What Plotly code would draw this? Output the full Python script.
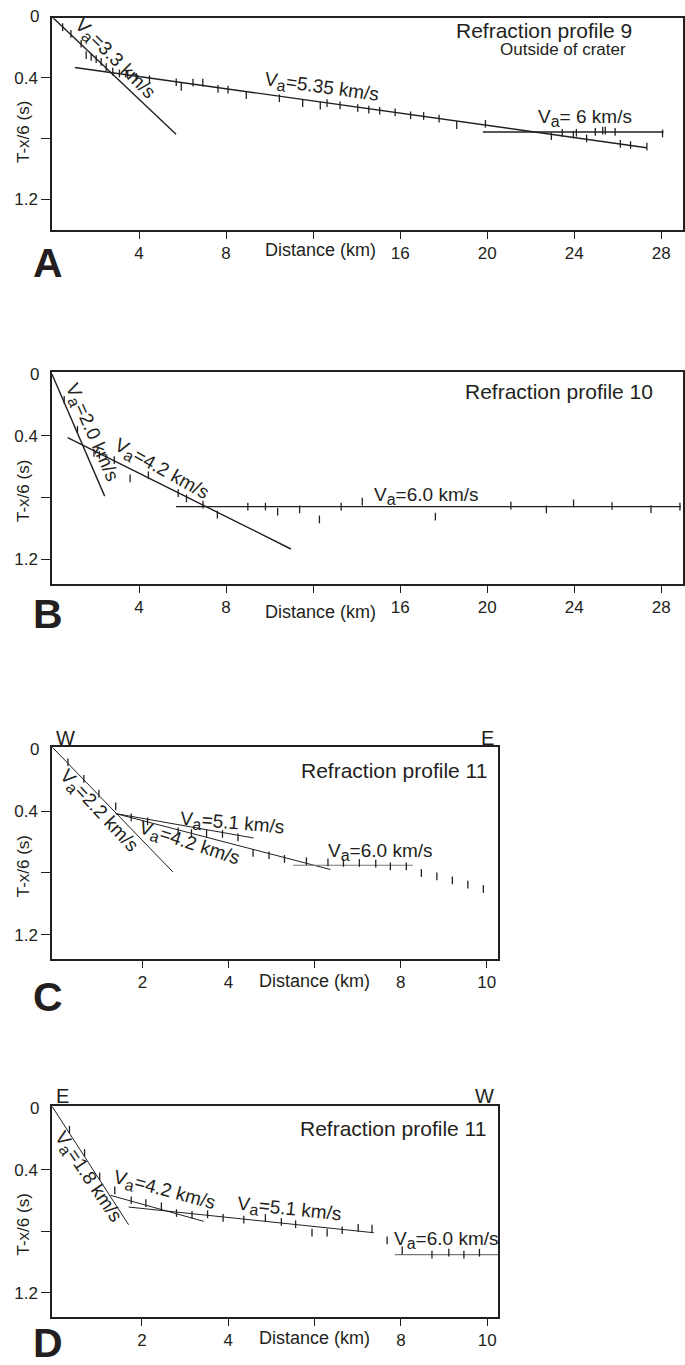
import plotly.graph_objects as go

W, H = 685, 1365
FONT = "Liberation Sans, Arial, sans-serif"
INK = "#231f20"

# ---------------- data ----------------
# Panel A : Refraction profile 9
a_pts_x = [0.49, 0.87, 1.34, 1.57, 1.80, 2.03, 2.26, 2.49, 2.79, 3.10, 3.48, 3.87, 4.48,
           5.71, 5.94, 6.48, 6.93, 7.63, 8.09, 8.93, 10.45, 11.52, 12.33, 12.64, 13.24,
           14.05, 14.56, 15.06, 15.77, 16.48, 17.08, 17.79, 18.60, 19.92, 22.95, 23.45,
           23.96, 24.10, 24.57, 24.97, 25.31, 25.43, 25.88, 26.12, 26.59, 27.34, 28.06]
a_pts_y = [0.068, 0.112, 0.177, 0.252, 0.263, 0.278, 0.296, 0.33, 0.36, 0.372, 0.38, 0.395, 0.41,
           0.43, 0.46, 0.433, 0.433, 0.474, 0.478, 0.515, 0.535, 0.567, 0.584, 0.567, 0.582,
           0.599, 0.610, 0.617, 0.628, 0.647, 0.651, 0.669, 0.712, 0.703, 0.784, 0.762,
           0.773, 0.762, 0.799, 0.756, 0.747, 0.747, 0.756, 0.834, 0.842, 0.853, 0.766]
a_v33_x, a_v33_y = [0.0, 5.70], [0.0, 0.772]
a_v535_x, a_v535_y = [1.05, 27.33], [0.333, 0.86]
a_v6_x, a_v6_y = [19.8, 28.1], [0.757, 0.757]

# Panel B : Refraction profile 10
b_pts_x = [0.56, 1.17, 1.93, 2.18, 2.86, 3.59, 4.43, 5.80, 6.18, 6.94, 7.60, 9.00, 9.81,
           10.37, 11.38, 12.29, 13.29, 14.26, 17.62, 21.09, 22.72, 23.97, 25.74, 27.53, 28.86]
b_pts_y = [0.165, 0.36, 0.51, 0.523, 0.556, 0.675, 0.655, 0.77, 0.805, 0.845, 0.91, 0.858, 0.858,
           0.891, 0.876, 0.941, 0.858, 0.826, 0.923, 0.852, 0.876, 0.837, 0.854, 0.874, 0.858]
b_v20_x, b_v20_y = [0.0, 2.42], [0.0, 0.79]
b_v42_x, b_v42_y = [0.72, 10.98], [0.41, 1.133]
b_v60_x, b_v60_y = [5.70, 28.9], [0.858, 0.858]

# Panel C : Refraction profile 11 (W -> E)
c_pts_x = [0.27, 0.64, 0.99, 1.38, 1.74, 2.12, 2.83, 3.14, 3.49, 3.86, 4.22, 4.57, 4.94, 5.30,
           5.81, 6.31, 6.67, 7.04, 7.42, 7.76, 8.13, 8.48, 8.84, 9.20, 9.56, 9.92]
c_pts_y = [0.082, 0.19, 0.285, 0.368, 0.439, 0.465, 0.53, 0.541, 0.545, 0.547, 0.569, 0.67, 0.685,
           0.709, 0.724, 0.731, 0.735, 0.735, 0.739, 0.757, 0.757, 0.80, 0.822, 0.848, 0.876, 0.904]
c_v22_x, c_v22_y = [-0.09, 2.71], [-0.015, 0.794]
c_v51_x, c_v51_y = [1.38, 4.58], [0.415, 0.573]
c_v42_x, c_v42_y = [1.38, 6.37], [0.415, 0.778]
c_v60_x, c_v60_y = [5.50, 8.28], [0.75, 0.75]

# Panel D : Refraction profile 11 (E -> W)
d_pts_x = [0.32, 0.67, 1.02, 1.37, 1.75, 2.09, 2.45, 2.80, 3.16, 3.52, 3.88, 4.36, 4.86, 5.23,
           5.56, 5.94, 6.29, 6.64, 7.01, 7.33, 7.68, 8.03, 8.72, 9.11, 9.46, 9.82]
d_pts_y = [0.140, 0.291, 0.443, 0.534, 0.599, 0.617, 0.638, 0.682, 0.693, 0.690, 0.714, 0.725,
           0.714, 0.740, 0.755, 0.810, 0.810, 0.794, 0.779, 0.784, 0.860, 0.925, 0.953, 0.940,
           0.953, 0.940]
d_v18_x, d_v18_y = [-0.08, 1.69], [-0.01, 0.758]
d_v42_x, d_v42_y = [1.27, 3.43], [0.567, 0.736]
d_v51_x, d_v51_y = [1.69, 7.37], [0.643, 0.81]
d_v60_x, d_v60_y = [7.86, 10.25], [0.953, 0.953]

# ticks
y_tickvals = [0, 0.4, 0.8, 1.2]
y_ticktext = ["0", "0.4", "", "1.2"]
x_tickvals_long = [4, 8, 12, 16, 20, 24, 28]
x_ticktext_long = ["4", "8", "", "16", "20", "24", "28"]
x_tickvals_short = [2, 4, 6, 8, 10]
x_ticktext_short = ["2", "4", "", "8", "10"]

VA = "V<sub><span style='font-size:16px'>a</span></sub>"

# ---------------- layout helpers ----------------
def px_x(p):
    return p / W

def px_y(p):
    return 1 - p / H

panels = [
    dict(key="A", box=(52, 683, 18.3, 230), xr=[0, 29], yr=[1.40, 0.01],
         xt=(x_tickvals_long, x_ticktext_long),
         pts=(a_pts_x, a_pts_y),
         lines=[(a_v33_x, a_v33_y, INK, 1.4), (a_v535_x, a_v535_y, INK, 1.4), (a_v6_x, a_v6_y, INK, 1.4)],
         labels=[(2.85, 0.28, 45, VA + "=3.3 km/s"),
                 (12.4, 0.47, 8, VA + "=5.35 km/s"),
                 (24.5, 0.665, 0, VA + "= 6 km/s")],
         title=("Refraction profile 9", 634, 30), sub=("Outside of crater", 628, 50),
         dist_x=12.35, dist_py=250, letter_py=263, ends=None),
    dict(key="B", box=(52, 683, 372, 584), xr=[0, 29], yr=[1.36, -0.015],
         xt=(x_tickvals_long, x_ticktext_long),
         pts=(b_pts_x, b_pts_y),
         lines=[(b_v20_x, b_v20_y, INK, 1.4), (b_v42_x, b_v42_y, INK, 1.4), (b_v60_x, b_v60_y, INK, 1.4)],
         labels=[(1.81, 0.38, 66, VA + "=2.0 km/s"),
                 (5.04, 0.62, 29, VA + "=4.2 km/s"),
                 (17.2, 0.79, 0, VA + "=6.0 km/s")],
         title=("Refraction profile 10", 655, 391), sub=None,
         dist_x=12.35, dist_py=612, letter_py=614, ends=None),
    dict(key="C", box=(52, 498, 747, 959), xr=[-0.1, 10.26], yr=[1.358, -0.017],
         xt=(x_tickvals_short, x_ticktext_short),
         pts=(c_pts_x, c_pts_y),
         lines=[(c_v22_x, c_v22_y, INK, 1.0), (c_v51_x, c_v51_y, INK, 1.0), (c_v42_x, c_v42_y, INK, 1.0),
                (c_v60_x, c_v60_y, "#777777", 1.2)],
         labels=[(0.97, 0.40, 47, VA + "=2.2 km/s"),
                 (4.10, 0.48, 5, VA + "=5.1 km/s"),
                 (3.10, 0.61, 18, VA + "=4.2 km/s"),
                 (7.54, 0.666, 0, VA + "=6.0 km/s")],
         title=("Refraction profile 11", 489, 770), sub=None,
         dist_x=6.0, dist_py=981, letter_py=997, ends=("W", "E", 737.5)),
    dict(key="D", box=(52, 498, 1106, 1317), xr=[-0.085, 10.25], yr=[1.358, -0.014],
         xt=(x_tickvals_short, x_ticktext_short),
         pts=(d_pts_x, d_pts_y),
         lines=[(d_v18_x, d_v18_y, INK, 1.0), (d_v42_x, d_v42_y, INK, 1.0), (d_v51_x, d_v51_y, INK, 1.0),
                (d_v60_x, d_v60_y, "#777777", 1.2)],
         labels=[(0.73, 0.45, 56, VA + "=1.8 km/s"),
                 (2.52, 0.54, 15, VA + "=4.2 km/s"),
                 (5.42, 0.66, 6, VA + "=5.1 km/s"),
                 (9.06, 0.86, 0, VA + "=6.0 km/s")],
         title=("Refraction profile 11", 488, 1128), sub=None,
         dist_x=6.0, dist_py=1338, letter_py=1343, ends=("E", "W", 1095.5)),
]

fig = go.Figure()
layout = dict(width=W, height=H, autosize=False, margin=dict(l=0, r=0, t=0, b=0),
              paper_bgcolor="white", plot_bgcolor="white", showlegend=False,
              font=dict(family=FONT, color=INK, size=17))
annotations = []

for i, p in enumerate(panels, start=1):
    xa = "x" if i == 1 else f"x{i}"
    ya = "y" if i == 1 else f"y{i}"
    xl, xr_, yt, yb = p["box"]
    common = dict(showline=True, mirror=True, linecolor=INK, linewidth=1.5, showgrid=False,
                  zeroline=False, ticks="outside", tickcolor=INK, tickwidth=1,
                  tickfont=dict(family=FONT, size=17, color=INK))
    layout["xaxis" if i == 1 else f"xaxis{i}"] = dict(
        common, domain=[px_x(xl), px_x(xr_)], range=p["xr"], anchor=ya,
        tickvals=p["xt"][0], ticktext=p["xt"][1], ticklen=7)
    layout["yaxis" if i == 1 else f"yaxis{i}"] = dict(
        common, domain=[px_y(yb), px_y(yt)], range=p["yr"], anchor=xa,
        tickvals=y_tickvals[1:], ticktext=y_ticktext[1:], ticklen=9)
    # the "0" label (no tick mark in the original); pixel row from the axis mapping
    y0 = p["yr"][1]
    y1 = p["yr"][0]
    zero_px = yt + (y_tickvals[0] - y0) / (y1 - y0) * (yb - yt)
    annotations.append(dict(xref="paper", yref="paper", x=px_x(41), y=px_y(zero_px),
                            text=y_ticktext[0], showarrow=False, xanchor="right",
                            yanchor="middle", font=dict(size=17)))
    # fitted lines
    for lx, ly, col, lw in p["lines"]:
        fig.add_trace(go.Scatter(x=lx, y=ly, mode="lines", line=dict(color=col, width=lw),
                                 xaxis=xa, yaxis=ya, hoverinfo="skip"))
    # observed first arrivals as small vertical ticks
    fig.add_trace(go.Scatter(x=p["pts"][0], y=p["pts"][1], mode="markers",
                             marker=dict(symbol="line-ns", size=5.5,
                                         line=dict(color=INK, width=1.3)),
                             xaxis=xa, yaxis=ya, cliponaxis=False))
    # velocity labels
    for tx, ty, ang, txt in p["labels"]:
        annotations.append(dict(xref=xa, yref=ya, x=tx, y=ty, text=txt, textangle=ang,
                                showarrow=False, xanchor="center", yanchor="middle",
                                font=dict(size=19)))
    # panel title
    t, tx, ty = p["title"]
    annotations.append(dict(xref="paper", yref="paper", x=px_x(tx), y=px_y(ty), text=t,
                            showarrow=False, xanchor="right", yanchor="middle",
                            font=dict(size=21)))
    if p["sub"]:
        s, sx, sy = p["sub"]
        annotations.append(dict(xref="paper", yref="paper", x=px_x(sx), y=px_y(sy), text=s,
                                showarrow=False, xanchor="right", yanchor="middle",
                                font=dict(size=17)))
    # axis titles
    annotations.append(dict(xref=xa, yref="paper", x=p["dist_x"], y=px_y(p["dist_py"]),
                            text="Distance (km)", showarrow=False, xanchor="center",
                            yanchor="middle", font=dict(size=18)))
    annotations.append(dict(xref="paper", yref=ya, x=px_x(23.5), y=0.76, text="T-x/6 (s)",
                            textangle=-90, showarrow=False, xanchor="center", yanchor="middle",
                            font=dict(size=17)))
    # panel letter
    annotations.append(dict(xref="paper", yref="paper", x=px_x(31), y=px_y(p["letter_py"]),
                            text="<b>%s</b>" % p["key"], showarrow=False, xanchor="left",
                            yanchor="middle", font=dict(size=41, color=INK)))
    # W / E direction labels
    if p["ends"]:
        left, right, ey = p["ends"]
        annotations.append(dict(xref="paper", yref="paper", x=px_x(xl + 2), y=px_y(ey), text=left,
                                showarrow=False, xanchor="left", yanchor="middle",
                                font=dict(size=20)))
        annotations.append(dict(xref="paper", yref="paper", x=px_x(xr_ - 2), y=px_y(ey), text=right,
                                showarrow=False, xanchor="right", yanchor="middle",
                                font=dict(size=20)))

layout["annotations"] = annotations
fig.update_layout(**layout)
fig.write_html("out.html", config={"displayModeBar": False},
               post_script="document.body.style.margin='0';document.body.style.overflow='hidden';")
